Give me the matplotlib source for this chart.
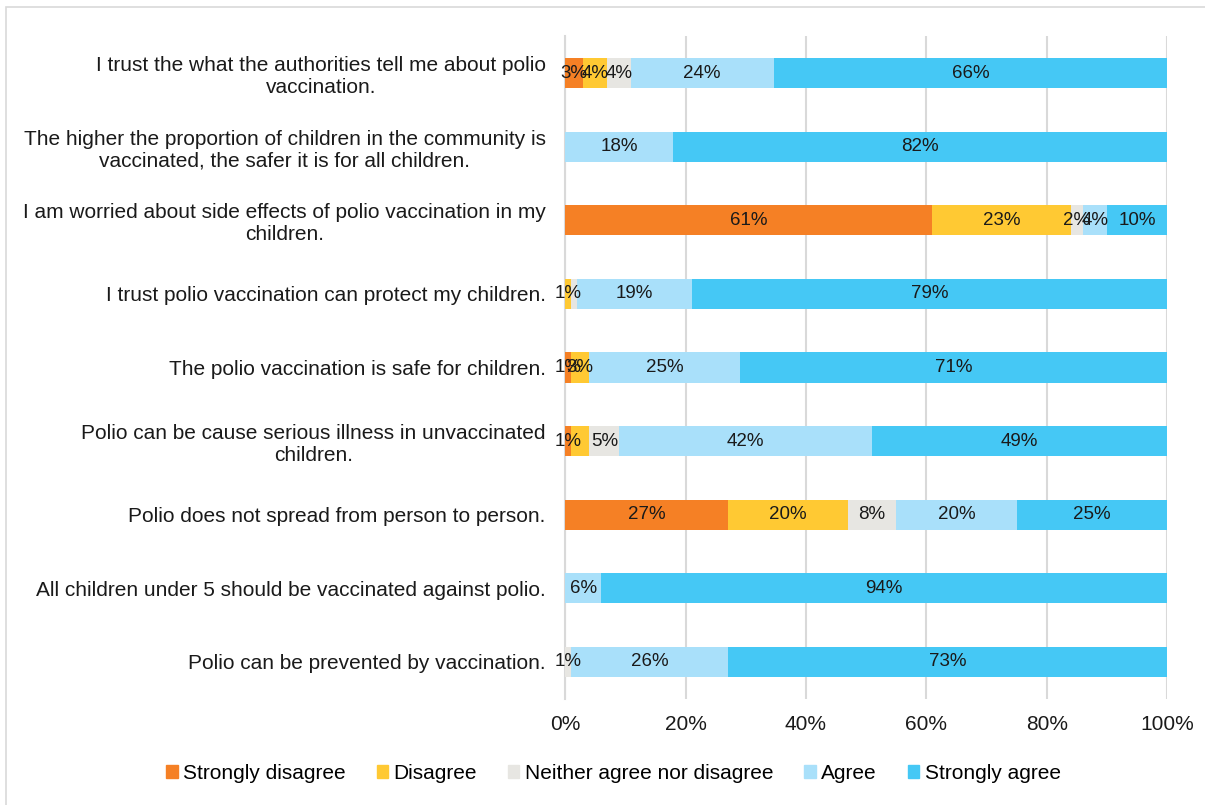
import matplotlib.pyplot as plt
import matplotlib.patches as mpatches
import numpy as np

plt.rcParams['font.family'] = ['Liberation Sans', 'DejaVu Sans']

# statements, top to bottom
statements = [
    "I trust the what the authorities tell me about polio\nvaccination.",
    "The higher the proportion of children in the community is\nvaccinated, the safer it is for all children.",
    "I am worried about side effects of polio vaccination in my\nchildren.",
    "I trust polio vaccination can protect my children.",
    "The polio vaccination is safe for children.",
    "Polio can be cause serious illness in unvaccinated\nchildren.",
    "Polio does not spread from person to person.",
    "All children under 5 should be vaccinated against polio.",
    "Polio can be prevented by vaccination.",
]

categories = ["Strongly disagree", "Disagree", "Neither agree nor disagree",
              "Agree", "Strongly agree"]

strongly_disagree = [3, 0, 61, 0, 1, 1, 27, 0, 0]
disagree = [4, 0, 23, 1, 3, 3, 20, 0, 0]
neither = [4, 0, 2, 1, 0, 5, 8, 0, 1]
agree = [24, 18, 4, 19, 25, 42, 20, 6, 26]
strongly_agree = [66, 82, 10, 79, 71, 49, 25, 94, 73]

# (row, series) pairs whose value label is not shown
hidden_labels = {(3, 2), (5, 1)}

colors = ["#F58025", "#FFC933", "#E7E6E2", "#A9E0FA", "#45C8F5"]

series = np.array([strongly_disagree, disagree, neither, agree, strongly_agree], dtype=float)
shares = series / series.sum(axis=0) * 100

fig = plt.figure(figsize=(12.05, 8.05), dpi=100)
ax = fig.add_axes([0.469, 0.132, 0.4995, 0.823])

y = np.arange(len(statements))
left = np.zeros(len(statements))
for k, (name, col) in enumerate(zip(categories, colors)):
    ax.barh(y, shares[k], left=left, height=0.41, color=col, label=name, zorder=3)
    for i in range(len(statements)):
        v = series[k, i]
        if v > 0 and (i, k) not in hidden_labels:
            ax.text(left[i] + shares[k, i] / 2, y[i], f"{int(v)}%",
                    ha='center', va='center', fontsize=13.5, color='#1a1a1a', zorder=4)
    left += shares[k]

ax.set_ylim(len(statements) - 0.5, -0.5)
ax.set_xlim(0, 100)
ax.set_yticks(y)
ax.set_yticklabels(statements, fontsize=15, multialignment='center', color='#1a1a1a')
ax.set_xticks(np.arange(0, 101, 20))
ax.set_xticklabels([f"{t}%" for t in range(0, 101, 20)], fontsize=15, color='#1a1a1a')
ax.tick_params(axis='y', length=0, pad=14)
ax.tick_params(axis='x', length=0, pad=12)
ax.xaxis.grid(True, color='#D9D9D9', linewidth=1.5, zorder=0)
for s in ['top', 'right', 'bottom']:
    ax.spines[s].set_visible(False)
ax.spines['left'].set_color('#D9D9D9')
ax.spines['left'].set_linewidth(1.5)

handles = [mpatches.Patch(color=c, label=n) for n, c in zip(categories, colors)]
fig.legend(handles=handles, loc='center', bbox_to_anchor=(0.509, 0.039), ncol=5,
           frameon=False, fontsize=15, handlelength=0.55, handleheight=0.55,
           handletextpad=0.25, columnspacing=1.5)

# chart border
fig.add_artist(mpatches.Rectangle((6 / 1205, -0.1), 1.2, 1 - 7 / 805 + 0.1,
                                  transform=fig.transFigure, fill=False,
                                  edgecolor='#D9D9D9', linewidth=1.2))

fig.savefig("out.png", dpi=100)
